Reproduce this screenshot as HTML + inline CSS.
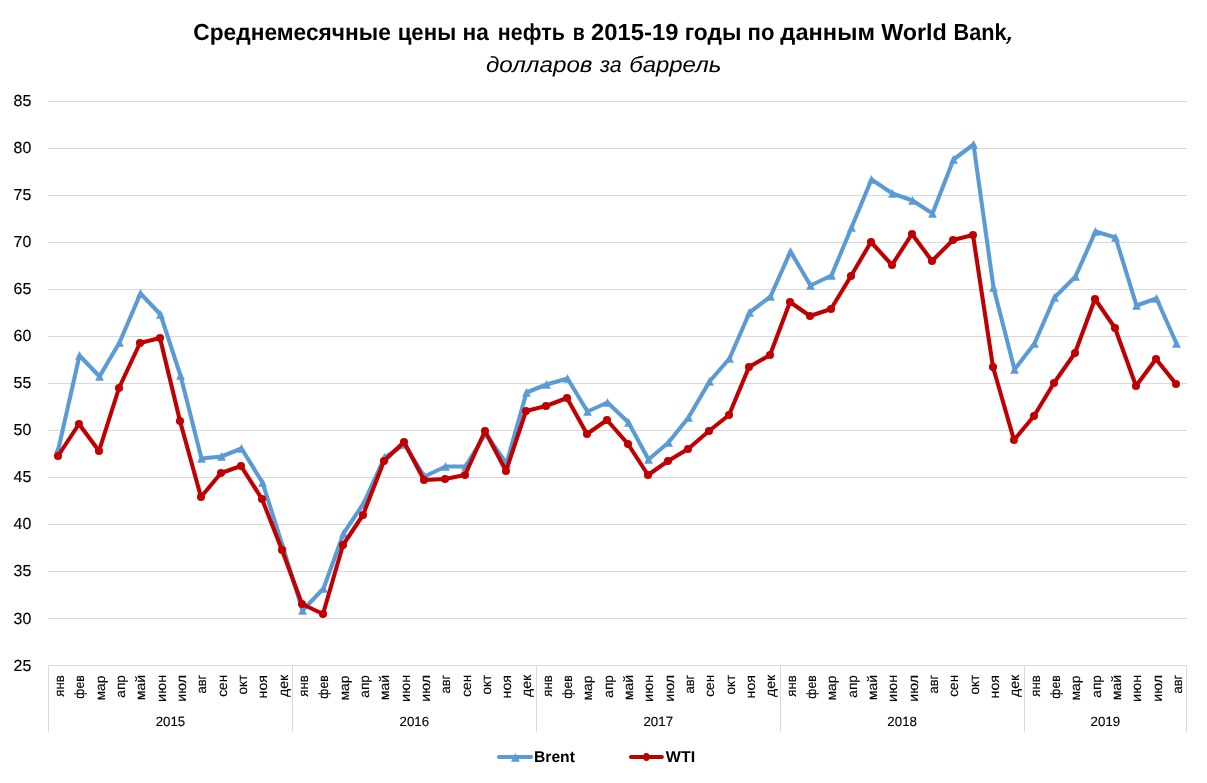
<!DOCTYPE html>
<html lang="ru"><head><meta charset="utf-8"><title>Среднемесячные цены на нефть</title>
<style>
html,body{margin:0;padding:0;background:#fff;}
body{width:1207px;height:783px;overflow:hidden;font-family:"Liberation Sans",sans-serif;}
svg{display:block;}
text{font-family:"Liberation Sans",sans-serif;fill:#000;text-rendering:geometricPrecision;}
.grid line{stroke:#D9D9D9;stroke-width:1;shape-rendering:crispEdges;}
.title text{font-size:23.2px;font-weight:bold;}
.sub text{font-size:22px;font-style:italic;}
.ylab text{font-size:16px;text-anchor:end;stroke:#000;stroke-width:0.15px;}
.mlab text{font-size:13.5px;stroke:#000;stroke-width:0.12px;}
.year text{font-size:13.3px;text-anchor:middle;stroke:#000;stroke-width:0.12px;}
.leg text{font-size:15.6px;font-weight:bold;}
</style></head><body>
<svg width="1207" height="783" viewBox="0 0 1207 783">
<rect width="1207" height="783" fill="#fff"/>
<g class="title"><text y="40">
<tspan x="193.3" textLength="197.53" lengthAdjust="spacingAndGlyphs">Среднемесячные</tspan> 
<tspan x="397.7" textLength="58.44" lengthAdjust="spacingAndGlyphs">цены</tspan> 
<tspan x="462.55" textLength="26.38" lengthAdjust="spacingAndGlyphs">на</tspan> 
<tspan x="497.85" textLength="66.96" lengthAdjust="spacingAndGlyphs">нефть</tspan> 
<tspan x="572.75" textLength="12.01" lengthAdjust="spacingAndGlyphs">в</tspan> 
<tspan x="591.1" textLength="87.46" lengthAdjust="spacingAndGlyphs">2015-19</tspan> 
<tspan x="684.7" textLength="56.68" lengthAdjust="spacingAndGlyphs">годы</tspan> 
<tspan x="747.55" textLength="26.92" lengthAdjust="spacingAndGlyphs">по</tspan> 
<tspan x="780.35" textLength="94.58" lengthAdjust="spacingAndGlyphs">данным</tspan> 
<tspan x="881.15" textLength="65.68" lengthAdjust="spacingAndGlyphs">World</tspan> 
<tspan x="953.6" textLength="53.05" lengthAdjust="spacingAndGlyphs">Bank</tspan> 
</text>
<text x="1005.7" y="40.2" style="font-weight:normal;font-style:italic;font-size:31px" transform="rotate(12 1009 40)">,</text>
</g>
<g class="sub"><text y="71.5">
<tspan x="485.95" textLength="106.56" lengthAdjust="spacingAndGlyphs">долларов</tspan> 
<tspan x="599.95" textLength="21.6" lengthAdjust="spacingAndGlyphs">за</tspan> 
<tspan x="629.2" textLength="92.04" lengthAdjust="spacingAndGlyphs">баррель</tspan> 
</text></g>
<g class="grid">
<line x1="48.0" x2="1187.2" y1="665.50" y2="665.50"/>
<line x1="48.0" x2="1187.2" y1="618.50" y2="618.50"/>
<line x1="48.0" x2="1187.2" y1="571.50" y2="571.50"/>
<line x1="48.0" x2="1187.2" y1="524.50" y2="524.50"/>
<line x1="48.0" x2="1187.2" y1="477.50" y2="477.50"/>
<line x1="48.0" x2="1187.2" y1="430.50" y2="430.50"/>
<line x1="48.0" x2="1187.2" y1="383.50" y2="383.50"/>
<line x1="48.0" x2="1187.2" y1="336.50" y2="336.50"/>
<line x1="48.0" x2="1187.2" y1="289.50" y2="289.50"/>
<line x1="48.0" x2="1187.2" y1="242.50" y2="242.50"/>
<line x1="48.0" x2="1187.2" y1="195.50" y2="195.50"/>
<line x1="48.0" x2="1187.2" y1="148.50" y2="148.50"/>
<line x1="48.0" x2="1187.2" y1="101.50" y2="101.50"/>
<line x1="48.50" x2="48.50" y1="665.5" y2="732"/>
<line x1="292.40" x2="292.40" y1="665.5" y2="732"/>
<line x1="536.30" x2="536.30" y1="665.5" y2="732"/>
<line x1="780.20" x2="780.20" y1="665.5" y2="732"/>
<line x1="1024.10" x2="1024.10" y1="665.5" y2="732"/>
<line x1="1186.70" x2="1186.70" y1="665.5" y2="732"/>
</g>
<g class="ylab">
<text x="31.3" y="671.00" textLength="17.7" lengthAdjust="spacingAndGlyphs">25</text>
<text x="31.3" y="624.00" textLength="17.7" lengthAdjust="spacingAndGlyphs">30</text>
<text x="31.3" y="576.20" textLength="17.7" lengthAdjust="spacingAndGlyphs">35</text>
<text x="31.3" y="529.20" textLength="17.7" lengthAdjust="spacingAndGlyphs">40</text>
<text x="31.3" y="482.20" textLength="17.7" lengthAdjust="spacingAndGlyphs">45</text>
<text x="31.3" y="435.20" textLength="17.7" lengthAdjust="spacingAndGlyphs">50</text>
<text x="31.3" y="388.20" textLength="17.7" lengthAdjust="spacingAndGlyphs">55</text>
<text x="31.3" y="341.20" textLength="17.7" lengthAdjust="spacingAndGlyphs">60</text>
<text x="31.3" y="294.20" textLength="17.7" lengthAdjust="spacingAndGlyphs">65</text>
<text x="31.3" y="247.20" textLength="17.7" lengthAdjust="spacingAndGlyphs">70</text>
<text x="31.3" y="200.20" textLength="17.7" lengthAdjust="spacingAndGlyphs">75</text>
<text x="31.3" y="153.20" textLength="17.7" lengthAdjust="spacingAndGlyphs">80</text>
<text x="31.3" y="106.20" textLength="17.7" lengthAdjust="spacingAndGlyphs">85</text>
</g>
<g class="mlab">
<text transform="translate(64.01 696.65) rotate(-90)" textLength="21.42" lengthAdjust="spacingAndGlyphs">янв</text>
<text transform="translate(84.34 698.65) rotate(-90)" textLength="23.4" lengthAdjust="spacingAndGlyphs">фев</text>
<text transform="translate(104.66 700.40) rotate(-90)" textLength="24.95" lengthAdjust="spacingAndGlyphs">мар</text>
<text transform="translate(124.99 697.65) rotate(-90)" textLength="22.38" lengthAdjust="spacingAndGlyphs">апр</text>
<text transform="translate(145.31 700.15) rotate(-90)" textLength="25.26" lengthAdjust="spacingAndGlyphs">май</text>
<text transform="translate(165.64 701.90) rotate(-90)" textLength="27.07" lengthAdjust="spacingAndGlyphs">июн</text>
<text transform="translate(185.96 701.65) rotate(-90)" textLength="26.83" lengthAdjust="spacingAndGlyphs">июл</text>
<text transform="translate(206.29 693.50) rotate(-90)" textLength="18.77" lengthAdjust="spacingAndGlyphs">авг</text>
<text transform="translate(226.61 696.65) rotate(-90)" textLength="21.77" lengthAdjust="spacingAndGlyphs">сен</text>
<text transform="translate(246.94 694.50) rotate(-90)" textLength="19.8" lengthAdjust="spacingAndGlyphs">окт</text>
<text transform="translate(267.26 698.40) rotate(-90)" textLength="23.33" lengthAdjust="spacingAndGlyphs">ноя</text>
<text transform="translate(287.59 697.00) rotate(-90)" textLength="22.1" lengthAdjust="spacingAndGlyphs">дек</text>
<text transform="translate(307.91 696.65) rotate(-90)" textLength="21.42" lengthAdjust="spacingAndGlyphs">янв</text>
<text transform="translate(328.24 698.65) rotate(-90)" textLength="23.4" lengthAdjust="spacingAndGlyphs">фев</text>
<text transform="translate(348.56 700.40) rotate(-90)" textLength="24.95" lengthAdjust="spacingAndGlyphs">мар</text>
<text transform="translate(368.89 697.65) rotate(-90)" textLength="22.38" lengthAdjust="spacingAndGlyphs">апр</text>
<text transform="translate(389.21 700.15) rotate(-90)" textLength="25.26" lengthAdjust="spacingAndGlyphs">май</text>
<text transform="translate(409.54 701.90) rotate(-90)" textLength="27.07" lengthAdjust="spacingAndGlyphs">июн</text>
<text transform="translate(429.86 701.65) rotate(-90)" textLength="26.83" lengthAdjust="spacingAndGlyphs">июл</text>
<text transform="translate(450.19 693.50) rotate(-90)" textLength="18.77" lengthAdjust="spacingAndGlyphs">авг</text>
<text transform="translate(470.51 696.65) rotate(-90)" textLength="21.77" lengthAdjust="spacingAndGlyphs">сен</text>
<text transform="translate(490.84 694.50) rotate(-90)" textLength="19.8" lengthAdjust="spacingAndGlyphs">окт</text>
<text transform="translate(511.16 698.40) rotate(-90)" textLength="23.33" lengthAdjust="spacingAndGlyphs">ноя</text>
<text transform="translate(531.49 697.00) rotate(-90)" textLength="22.1" lengthAdjust="spacingAndGlyphs">дек</text>
<text transform="translate(551.81 696.65) rotate(-90)" textLength="21.42" lengthAdjust="spacingAndGlyphs">янв</text>
<text transform="translate(572.14 698.65) rotate(-90)" textLength="23.4" lengthAdjust="spacingAndGlyphs">фев</text>
<text transform="translate(592.46 700.40) rotate(-90)" textLength="24.95" lengthAdjust="spacingAndGlyphs">мар</text>
<text transform="translate(612.79 697.65) rotate(-90)" textLength="22.38" lengthAdjust="spacingAndGlyphs">апр</text>
<text transform="translate(633.11 700.15) rotate(-90)" textLength="25.26" lengthAdjust="spacingAndGlyphs">май</text>
<text transform="translate(653.44 701.90) rotate(-90)" textLength="27.07" lengthAdjust="spacingAndGlyphs">июн</text>
<text transform="translate(673.76 701.65) rotate(-90)" textLength="26.83" lengthAdjust="spacingAndGlyphs">июл</text>
<text transform="translate(694.09 693.50) rotate(-90)" textLength="18.77" lengthAdjust="spacingAndGlyphs">авг</text>
<text transform="translate(714.41 696.65) rotate(-90)" textLength="21.77" lengthAdjust="spacingAndGlyphs">сен</text>
<text transform="translate(734.74 694.50) rotate(-90)" textLength="19.8" lengthAdjust="spacingAndGlyphs">окт</text>
<text transform="translate(755.06 698.40) rotate(-90)" textLength="23.33" lengthAdjust="spacingAndGlyphs">ноя</text>
<text transform="translate(775.39 697.00) rotate(-90)" textLength="22.1" lengthAdjust="spacingAndGlyphs">дек</text>
<text transform="translate(795.71 696.65) rotate(-90)" textLength="21.42" lengthAdjust="spacingAndGlyphs">янв</text>
<text transform="translate(816.04 698.65) rotate(-90)" textLength="23.4" lengthAdjust="spacingAndGlyphs">фев</text>
<text transform="translate(836.36 700.40) rotate(-90)" textLength="24.95" lengthAdjust="spacingAndGlyphs">мар</text>
<text transform="translate(856.69 697.65) rotate(-90)" textLength="22.38" lengthAdjust="spacingAndGlyphs">апр</text>
<text transform="translate(877.01 700.15) rotate(-90)" textLength="25.26" lengthAdjust="spacingAndGlyphs">май</text>
<text transform="translate(897.34 701.90) rotate(-90)" textLength="27.07" lengthAdjust="spacingAndGlyphs">июн</text>
<text transform="translate(917.66 701.65) rotate(-90)" textLength="26.83" lengthAdjust="spacingAndGlyphs">июл</text>
<text transform="translate(937.99 693.50) rotate(-90)" textLength="18.77" lengthAdjust="spacingAndGlyphs">авг</text>
<text transform="translate(958.31 696.65) rotate(-90)" textLength="21.77" lengthAdjust="spacingAndGlyphs">сен</text>
<text transform="translate(978.64 694.50) rotate(-90)" textLength="19.8" lengthAdjust="spacingAndGlyphs">окт</text>
<text transform="translate(998.96 698.40) rotate(-90)" textLength="23.33" lengthAdjust="spacingAndGlyphs">ноя</text>
<text transform="translate(1019.29 697.00) rotate(-90)" textLength="22.1" lengthAdjust="spacingAndGlyphs">дек</text>
<text transform="translate(1039.61 696.65) rotate(-90)" textLength="21.42" lengthAdjust="spacingAndGlyphs">янв</text>
<text transform="translate(1059.94 698.65) rotate(-90)" textLength="23.4" lengthAdjust="spacingAndGlyphs">фев</text>
<text transform="translate(1080.26 700.40) rotate(-90)" textLength="24.95" lengthAdjust="spacingAndGlyphs">мар</text>
<text transform="translate(1100.59 697.65) rotate(-90)" textLength="22.38" lengthAdjust="spacingAndGlyphs">апр</text>
<text transform="translate(1120.91 700.15) rotate(-90)" textLength="25.26" lengthAdjust="spacingAndGlyphs">май</text>
<text transform="translate(1141.24 701.90) rotate(-90)" textLength="27.07" lengthAdjust="spacingAndGlyphs">июн</text>
<text transform="translate(1161.56 701.65) rotate(-90)" textLength="26.83" lengthAdjust="spacingAndGlyphs">июл</text>
<text transform="translate(1181.89 693.50) rotate(-90)" textLength="18.77" lengthAdjust="spacingAndGlyphs">авг</text>
</g>
<g class="year">
<text x="170.45" y="725.8">2015</text>
<text x="414.35" y="725.8">2016</text>
<text x="658.25" y="725.8">2017</text>
<text x="902.15" y="725.8">2018</text>
<text x="1105.40" y="725.8">2019</text>
</g>
<g><polyline points="58.5,448.5 79.5,355.5 99.5,376.5 119.5,342.5 140.5,293.5 160.5,314.5 180.5,375.5 201.5,458.5 221.5,456.5 241.5,448.5 262.5,482.5 282.5,545.5 302.5,610.5 323.5,588.5 343.5,533.5 363.5,503.5 384.5,457.5 404.5,444.5 424.5,476.5 445.5,466.5 465.5,466.5 485.5,433.5 506.5,463.5 526.5,392.5 546.5,384.5 567.5,378.5 587.5,411.5 607.5,402.5 628.5,422.5 648.5,459.5 668.5,442.5 688.5,417.5 709.5,381.5 729.5,358.5 749.5,312.5 770.5,296.5 790.5,251.5 810.5,285.5 831.5,275.5 851.5,227.5 871.5,179.5 892.5,193.5 912.5,200.5 932.5,213.5 953.5,159.5 973.5,144.5 993.5,287.5 1014.5,369.5 1034.5,343.5 1054.5,297.5 1075.5,276.5 1095.5,231.5 1115.5,237.5 1136.5,305.5 1156.5,298.5 1176.5,343.5" fill="none" stroke="#5B9BD5" stroke-width="4.1" stroke-linejoin="round" stroke-linecap="round"/>
<g fill="#5B9BD5">
<path d="M58.50 444.00L62.90 452.70L54.10 452.70Z"/>
<path d="M79.50 351.00L83.90 359.70L75.10 359.70Z"/>
<path d="M99.50 372.00L103.90 380.70L95.10 380.70Z"/>
<path d="M119.50 338.00L123.90 346.70L115.10 346.70Z"/>
<path d="M140.50 289.00L144.90 297.70L136.10 297.70Z"/>
<path d="M160.50 310.00L164.90 318.70L156.10 318.70Z"/>
<path d="M180.50 371.00L184.90 379.70L176.10 379.70Z"/>
<path d="M201.50 454.00L205.90 462.70L197.10 462.70Z"/>
<path d="M221.50 452.00L225.90 460.70L217.10 460.70Z"/>
<path d="M241.50 444.00L245.90 452.70L237.10 452.70Z"/>
<path d="M262.50 478.00L266.90 486.70L258.10 486.70Z"/>
<path d="M282.50 541.00L286.90 549.70L278.10 549.70Z"/>
<path d="M302.50 606.00L306.90 614.70L298.10 614.70Z"/>
<path d="M323.50 584.00L327.90 592.70L319.10 592.70Z"/>
<path d="M343.50 529.00L347.90 537.70L339.10 537.70Z"/>
<path d="M363.50 499.00L367.90 507.70L359.10 507.70Z"/>
<path d="M384.50 453.00L388.90 461.70L380.10 461.70Z"/>
<path d="M404.50 440.00L408.90 448.70L400.10 448.70Z"/>
<path d="M424.50 472.00L428.90 480.70L420.10 480.70Z"/>
<path d="M445.50 462.00L449.90 470.70L441.10 470.70Z"/>
<path d="M465.50 462.00L469.90 470.70L461.10 470.70Z"/>
<path d="M485.50 429.00L489.90 437.70L481.10 437.70Z"/>
<path d="M506.50 459.00L510.90 467.70L502.10 467.70Z"/>
<path d="M526.50 388.00L530.90 396.70L522.10 396.70Z"/>
<path d="M546.50 380.00L550.90 388.70L542.10 388.70Z"/>
<path d="M567.50 374.00L571.90 382.70L563.10 382.70Z"/>
<path d="M587.50 407.00L591.90 415.70L583.10 415.70Z"/>
<path d="M607.50 398.00L611.90 406.70L603.10 406.70Z"/>
<path d="M628.50 418.00L632.90 426.70L624.10 426.70Z"/>
<path d="M648.50 455.00L652.90 463.70L644.10 463.70Z"/>
<path d="M668.50 438.00L672.90 446.70L664.10 446.70Z"/>
<path d="M688.50 413.00L692.90 421.70L684.10 421.70Z"/>
<path d="M709.50 377.00L713.90 385.70L705.10 385.70Z"/>
<path d="M729.50 354.00L733.90 362.70L725.10 362.70Z"/>
<path d="M749.50 308.00L753.90 316.70L745.10 316.70Z"/>
<path d="M770.50 292.00L774.90 300.70L766.10 300.70Z"/>
<path d="M790.50 247.00L794.90 255.70L786.10 255.70Z"/>
<path d="M810.50 281.00L814.90 289.70L806.10 289.70Z"/>
<path d="M831.50 271.00L835.90 279.70L827.10 279.70Z"/>
<path d="M851.50 223.00L855.90 231.70L847.10 231.70Z"/>
<path d="M871.50 175.00L875.90 183.70L867.10 183.70Z"/>
<path d="M892.50 189.00L896.90 197.70L888.10 197.70Z"/>
<path d="M912.50 196.00L916.90 204.70L908.10 204.70Z"/>
<path d="M932.50 209.00L936.90 217.70L928.10 217.70Z"/>
<path d="M953.50 155.00L957.90 163.70L949.10 163.70Z"/>
<path d="M973.50 140.00L977.90 148.70L969.10 148.70Z"/>
<path d="M993.50 283.00L997.90 291.70L989.10 291.70Z"/>
<path d="M1014.50 365.00L1018.90 373.70L1010.10 373.70Z"/>
<path d="M1034.50 339.00L1038.90 347.70L1030.10 347.70Z"/>
<path d="M1054.50 293.00L1058.90 301.70L1050.10 301.70Z"/>
<path d="M1075.50 272.00L1079.90 280.70L1071.10 280.70Z"/>
<path d="M1095.50 227.00L1099.90 235.70L1091.10 235.70Z"/>
<path d="M1115.50 233.00L1119.90 241.70L1111.10 241.70Z"/>
<path d="M1136.50 301.00L1140.90 309.70L1132.10 309.70Z"/>
<path d="M1156.50 294.00L1160.90 302.70L1152.10 302.70Z"/>
<path d="M1176.50 339.00L1180.90 347.70L1172.10 347.70Z"/>
</g></g>
<g><polyline points="58.0,456.0 79.0,424.0 99.0,451.0 119.0,388.0 140.0,343.0 160.0,338.0 180.0,421.0 201.0,497.0 221.0,473.0 241.0,466.0 262.0,499.0 282.0,550.0 302.0,604.0 323.0,614.0 343.0,545.0 363.0,515.0 384.0,461.0 404.0,442.0 424.0,480.0 445.0,479.0 465.0,475.0 485.0,431.0 506.0,471.0 526.0,411.0 546.0,406.0 567.0,398.0 587.0,434.0 607.0,420.0 628.0,444.0 648.0,475.0 668.0,461.0 688.0,449.0 709.0,431.0 729.0,415.0 749.0,367.0 770.0,355.0 790.0,302.0 810.0,316.0 831.0,309.0 851.0,276.0 871.0,242.0 892.0,265.0 912.0,234.0 932.0,261.0 953.0,240.0 973.0,235.0 993.0,367.0 1014.0,440.0 1034.0,416.0 1054.0,383.0 1075.0,353.0 1095.0,299.0 1115.0,328.0 1136.0,386.0 1156.0,359.0 1176.0,384.0" fill="none" stroke="#C00000" stroke-width="4.1" stroke-linejoin="round" stroke-linecap="round"/>
<g fill="#C00000">
<circle cx="58.0" cy="456.0" r="4.05"/>
<circle cx="79.0" cy="424.0" r="4.05"/>
<circle cx="99.0" cy="451.0" r="4.05"/>
<circle cx="119.0" cy="388.0" r="4.05"/>
<circle cx="140.0" cy="343.0" r="4.05"/>
<circle cx="160.0" cy="338.0" r="4.05"/>
<circle cx="180.0" cy="421.0" r="4.05"/>
<circle cx="201.0" cy="497.0" r="4.05"/>
<circle cx="221.0" cy="473.0" r="4.05"/>
<circle cx="241.0" cy="466.0" r="4.05"/>
<circle cx="262.0" cy="499.0" r="4.05"/>
<circle cx="282.0" cy="550.0" r="4.05"/>
<circle cx="302.0" cy="604.0" r="4.05"/>
<circle cx="323.0" cy="614.0" r="4.05"/>
<circle cx="343.0" cy="545.0" r="4.05"/>
<circle cx="363.0" cy="515.0" r="4.05"/>
<circle cx="384.0" cy="461.0" r="4.05"/>
<circle cx="404.0" cy="442.0" r="4.05"/>
<circle cx="424.0" cy="480.0" r="4.05"/>
<circle cx="445.0" cy="479.0" r="4.05"/>
<circle cx="465.0" cy="475.0" r="4.05"/>
<circle cx="485.0" cy="431.0" r="4.05"/>
<circle cx="506.0" cy="471.0" r="4.05"/>
<circle cx="526.0" cy="411.0" r="4.05"/>
<circle cx="546.0" cy="406.0" r="4.05"/>
<circle cx="567.0" cy="398.0" r="4.05"/>
<circle cx="587.0" cy="434.0" r="4.05"/>
<circle cx="607.0" cy="420.0" r="4.05"/>
<circle cx="628.0" cy="444.0" r="4.05"/>
<circle cx="648.0" cy="475.0" r="4.05"/>
<circle cx="668.0" cy="461.0" r="4.05"/>
<circle cx="688.0" cy="449.0" r="4.05"/>
<circle cx="709.0" cy="431.0" r="4.05"/>
<circle cx="729.0" cy="415.0" r="4.05"/>
<circle cx="749.0" cy="367.0" r="4.05"/>
<circle cx="770.0" cy="355.0" r="4.05"/>
<circle cx="790.0" cy="302.0" r="4.05"/>
<circle cx="810.0" cy="316.0" r="4.05"/>
<circle cx="831.0" cy="309.0" r="4.05"/>
<circle cx="851.0" cy="276.0" r="4.05"/>
<circle cx="871.0" cy="242.0" r="4.05"/>
<circle cx="892.0" cy="265.0" r="4.05"/>
<circle cx="912.0" cy="234.0" r="4.05"/>
<circle cx="932.0" cy="261.0" r="4.05"/>
<circle cx="953.0" cy="240.0" r="4.05"/>
<circle cx="973.0" cy="235.0" r="4.05"/>
<circle cx="993.0" cy="367.0" r="4.05"/>
<circle cx="1014.0" cy="440.0" r="4.05"/>
<circle cx="1034.0" cy="416.0" r="4.05"/>
<circle cx="1054.0" cy="383.0" r="4.05"/>
<circle cx="1075.0" cy="353.0" r="4.05"/>
<circle cx="1095.0" cy="299.0" r="4.05"/>
<circle cx="1115.0" cy="328.0" r="4.05"/>
<circle cx="1136.0" cy="386.0" r="4.05"/>
<circle cx="1156.0" cy="359.0" r="4.05"/>
<circle cx="1176.0" cy="384.0" r="4.05"/>
</g></g>
<g class="leg">
<line x1="499" x2="531" y1="757" y2="757" stroke="#5B9BD5" stroke-width="4.2" stroke-linecap="round"/>
<g fill="#5B9BD5"><path d="M515.45 753.10L519.85 761.80L511.05 761.80Z"/></g>
<text x="534.0" y="761.7" textLength="40.91" lengthAdjust="spacingAndGlyphs">Brent</text>
<line x1="631" x2="661.8" y1="757" y2="757" stroke="#C00000" stroke-width="4.2" stroke-linecap="round"/>
<ellipse cx="646.4" cy="757" rx="3.3" ry="3.9" fill="#C00000"/>
<text x="665.85" y="761.7" textLength="29.42" lengthAdjust="spacingAndGlyphs">WTI</text>
</g>
</svg></body></html>
